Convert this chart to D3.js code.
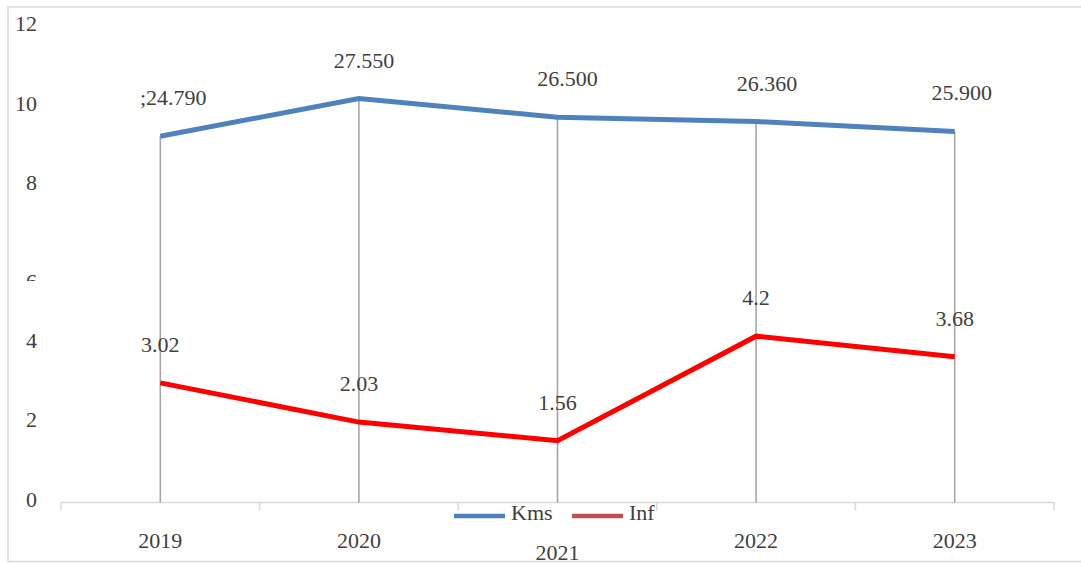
<!DOCTYPE html>
<html>
<head>
<meta charset="utf-8">
<script src="https://cdn.jsdelivr.net/npm/d3@7"></script>
<style>
  html, body { margin: 0; padding: 0; background: #fff; }
  svg { display: block; }
</style>
</head>
<body>
<svg id="chart"></svg>
<script>
// data
const years = ["2019", "2020", "2021", "2022", "2023"];
const kmsPlot = [9.25, 10.2, 9.73, 9.62, 9.37]; // plotted height of the Kms line
const kmsLabels = [";24.790", "27.550", "26.500", "26.360", "25.900"];
const infValues = [3.02, 2.03, 1.56, 4.2, 3.68];
const infLabels = ["3.02", "2.03", "1.56", "4.2", "3.68"];
const yTicks = [0, 2, 4, 6, 8, 10, 12];
const seriesNames = ["Kms", "Inf"];

const width = 1081;
const height = 563;
const fontFamily = "Liberation Serif";
const textColor = "#404040";

const svg = d3.select("#chart")
  .attr("width", width)
  .attr("height", height);

const x = d3.scaleBand().domain(years).range([61, 1054]);
const y = d3.scaleLinear().domain([0, 12]).range([502.5, 27.3]);
const cx = (d) => x(d) + x.bandwidth() / 2;

// common text styling
function styleText(sel) {
  return sel
    .attr("font-family", fontFamily)
    .attr("font-size", 22)
    .attr("fill", textColor)
    .style("font-family", fontFamily)
    .style("font-size", "22px");
}

// y tick labels (no axis line, no gridlines); the 6 is mostly hidden like in the source
svg.append("defs").append("clipPath").attr("id", "clip6")
  .append("rect").attr("x", 0).attr("y", 0).attr("width", 60).attr("height", 281);

svg.append("g")
  .selectAll("text")
  .data(yTicks)
  .join("text")
  .attr("x", 37)
  .attr("y", (d) => (d === 6 ? y(d) + 24 : y(d) + 4))
  .attr("text-anchor", "end")
  .attr("clip-path", (d) => (d === 6 ? "url(#clip6)" : null))
  .call(styleText)
  .text((d) => d);

// x axis
const xAxis = svg.append("g")
  .attr("transform", `translate(0,${y(0)})`)
  .call(d3.axisBottom(x).tickSize(0).tickFormat(""));
xAxis.select(".domain").attr("stroke", "#d9d9d9").attr("stroke-width", 1.5)
  .attr("d", `M61,0H1054`);
xAxis.append("g")
  .selectAll("line")
  .data(years.concat(["end"]))
  .join("line")
  .attr("x1", (d, i) => (i < years.length ? x(d) : x(years[years.length - 1]) + x.bandwidth()))
  .attr("x2", (d, i) => (i < years.length ? x(d) : x(years[years.length - 1]) + x.bandwidth()))
  .attr("y1", 0)
  .attr("y2", 8)
  .attr("stroke", "#d9d9d9")
  .attr("stroke-width", 1.5);

// drop lines
svg.append("g")
  .selectAll("line")
  .data(years)
  .join("line")
  .attr("x1", cx)
  .attr("x2", cx)
  .attr("y1", (d, i) => y(Math.max(kmsPlot[i], infValues[i])))
  .attr("y2", y(0))
  .attr("stroke", "#a6a6a6")
  .attr("stroke-width", 1.6);

const line = d3.line().x((d) => cx(d[0])).y((d) => y(d[1]));

svg.append("path")
  .datum(years.map((d, i) => [d, kmsPlot[i]]))
  .attr("fill", "none")
  .attr("stroke", "#4f81bd")
  .attr("stroke-width", 5)
  .attr("d", line);

svg.append("path")
  .datum(years.map((d, i) => [d, infValues[i]]))
  .attr("fill", "none")
  .attr("stroke", "#ff0000")
  .attr("stroke-width", 5)
  .attr("d", line);

// data labels
const kmsLabelDx = [13, 5, 10, 11, 7];
svg.append("g")
  .selectAll("text")
  .data(years)
  .join("text")
  .attr("x", (d, i) => cx(d) + kmsLabelDx[i])
  .attr("y", (d, i) => y(kmsPlot[i]) - 31)
  .attr("text-anchor", "middle")
  .call(styleText)
  .text((d, i) => kmsLabels[i]);

svg.append("g")
  .selectAll("text")
  .data(years)
  .join("text")
  .attr("x", cx)
  .attr("y", (d, i) => y(infValues[i]) - 31)
  .attr("text-anchor", "middle")
  .call(styleText)
  .text((d, i) => infLabels[i]);

// category labels (2021 pushed down by the legend)
svg.append("g")
  .selectAll("text")
  .data(years)
  .join("text")
  .attr("x", cx)
  .attr("y", (d) => (d === "2021" ? 560 : 548))
  .attr("text-anchor", "middle")
  .call(styleText)
  .text((d) => d);

// legend
const legendColors = ["#4f81bd", "#c0504d"];
const legendX = [454, 572];
const legend = svg.append("g")
  .selectAll("g")
  .data(seriesNames)
  .join("g")
  .attr("transform", (d, i) => `translate(${legendX[i]},516)`);
legend.append("line")
  .attr("x1", 0).attr("x2", 51)
  .attr("stroke", (d, i) => legendColors[i])
  .attr("stroke-width", 4.5);
legend.append("text")
  .attr("x", 57)
  .attr("y", 4)
  .call(styleText)
  .text((d) => d);

// outer border
svg.append("rect")
  .attr("x", 8)
  .attr("y", 7)
  .attr("width", 1090)
  .attr("height", 554.5)
  .attr("fill", "none")
  .attr("stroke", "#d9d9d9")
  .attr("stroke-width", 1.5);
</script>
</body>
</html>
